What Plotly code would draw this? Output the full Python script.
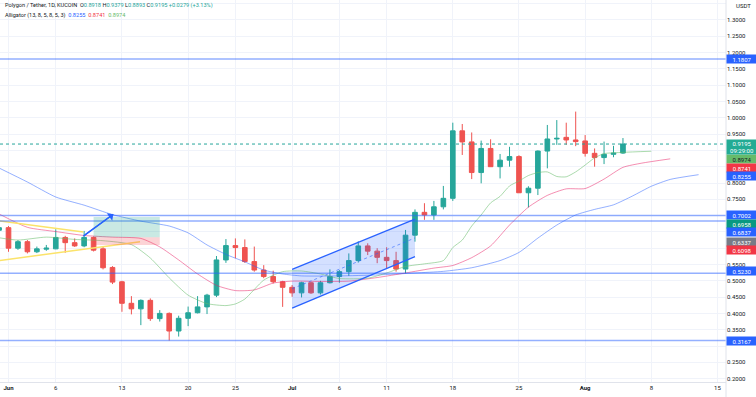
import plotly.graph_objects as go
import pandas as pd

# ---------------- data ----------------
dates = pd.date_range("2022-05-31", "2022-08-05", freq="D").strftime("%Y-%m-%d").tolist()

opens = [0.655,
         0.663, 0.600, 0.620, 0.589, 0.597, 0.598, 0.633, 0.617, 0.607, 0.633,
         0.598, 0.541, 0.497, 0.431, 0.414, 0.440, 0.384, 0.400, 0.346, 0.385,
         0.402, 0.420, 0.456, 0.564, 0.608, 0.602, 0.559, 0.533, 0.513, 0.497,
         0.480, 0.463, 0.494, 0.463, 0.494, 0.513, 0.528, 0.562, 0.607, 0.591,
         0.572, 0.562, 0.536, 0.640, 0.710, 0.702, 0.727, 0.753, 0.960, 0.926,
         0.832, 0.906, 0.850, 0.870, 0.881, 0.770, 0.784, 0.898, 0.935, 0.940,
         0.932, 0.929, 0.891, 0.878, 0.888, 0.8918]
highs = [0.680,
         0.668, 0.625, 0.625, 0.605, 0.610, 0.658, 0.638, 0.630, 0.653, 0.636,
         0.605, 0.545, 0.500, 0.453, 0.443, 0.446, 0.410, 0.403, 0.393, 0.421,
         0.453, 0.460, 0.576, 0.628, 0.630, 0.627, 0.605, 0.548, 0.531, 0.500,
         0.487, 0.497, 0.497, 0.500, 0.535, 0.533, 0.584, 0.621, 0.615, 0.600,
         0.603, 0.589, 0.656, 0.719, 0.738, 0.745, 0.791, 0.985, 0.981, 0.955,
         0.930, 0.934, 0.889, 0.911, 0.885, 0.790, 0.900, 0.978, 0.993, 0.985,
         1.019, 0.947, 0.906, 0.927, 0.914, 0.9379]
lows = [0.645,
        0.589, 0.595, 0.584, 0.585, 0.592, 0.597, 0.586, 0.604, 0.603, 0.590,
        0.535, 0.490, 0.405, 0.397, 0.364, 0.377, 0.375, 0.3167, 0.329, 0.361,
        0.400, 0.398, 0.450, 0.555, 0.569, 0.555, 0.528, 0.508, 0.492, 0.420,
        0.451, 0.449, 0.460, 0.458, 0.492, 0.494, 0.515, 0.556, 0.579, 0.554,
        0.538, 0.528, 0.523, 0.620, 0.687, 0.687, 0.719, 0.745, 0.886, 0.812,
        0.799, 0.850, 0.814, 0.850, 0.770, 0.725, 0.763, 0.845, 0.917, 0.917,
        0.913, 0.881, 0.850, 0.858, 0.879, 0.8893]
closes = [0.663,
          0.600, 0.620, 0.589, 0.598, 0.600, 0.633, 0.617, 0.607, 0.633, 0.594,
          0.540, 0.496, 0.431, 0.414, 0.440, 0.384, 0.400, 0.346, 0.385, 0.402,
          0.420, 0.456, 0.564, 0.608, 0.602, 0.559, 0.533, 0.513, 0.497, 0.480,
          0.463, 0.494, 0.463, 0.494, 0.513, 0.528, 0.562, 0.607, 0.591, 0.572,
          0.562, 0.536, 0.640, 0.710, 0.702, 0.727, 0.753, 0.960, 0.926, 0.832,
          0.906, 0.850, 0.870, 0.881, 0.770, 0.784, 0.898, 0.935, 0.937, 0.932,
          0.927, 0.891, 0.878, 0.888, 0.8916, 0.9195]

# Alligator lines
jaw_dates = ["2022-05-31", "2022-06-03", "2022-06-06", "2022-06-09", "2022-06-12", "2022-06-15",
             "2022-06-18", "2022-06-20", "2022-06-22", "2022-06-24", "2022-06-26", "2022-06-28",
             "2022-06-30", "2022-07-02", "2022-07-06", "2022-07-10", "2022-07-14", "2022-07-17",
             "2022-07-20", "2022-07-23", "2022-07-25", "2022-07-27", "2022-07-29", "2022-07-31",
             "2022-08-02", "2022-08-04", "2022-08-06", "2022-08-08", "2022-08-10", "2022-08-13"]
jaw_vals = [0.846, 0.803, 0.757, 0.732, 0.703, 0.683,
            0.668, 0.647, 0.610, 0.581, 0.558, 0.533,
            0.521, 0.515, 0.515, 0.518, 0.524, 0.529,
            0.540, 0.562, 0.587, 0.631, 0.671, 0.702,
            0.719, 0.733, 0.760, 0.790, 0.811, 0.8255]

teeth_dates = ["2022-05-31", "2022-06-03", "2022-06-06", "2022-06-09", "2022-06-12", "2022-06-15",
               "2022-06-17", "2022-06-19", "2022-06-21", "2022-06-23", "2022-06-25", "2022-06-27",
               "2022-06-29", "2022-07-01", "2022-07-04", "2022-07-07", "2022-07-10", "2022-07-13",
               "2022-07-16", "2022-07-18", "2022-07-20", "2022-07-22", "2022-07-24", "2022-07-26",
               "2022-07-28", "2022-07-30", "2022-08-01", "2022-08-03", "2022-08-05", "2022-08-07",
               "2022-08-10"]
teeth_vals = [0.705, 0.664, 0.651, 0.639, 0.634, 0.630,
              0.604, 0.564, 0.521, 0.486, 0.470, 0.472,
              0.493, 0.499, 0.498, 0.499, 0.510, 0.524,
              0.539, 0.547, 0.571, 0.607, 0.671, 0.726,
              0.762, 0.782, 0.783, 0.812, 0.848, 0.861,
              0.8741]

lips_dates = ["2022-05-31", "2022-06-02", "2022-06-05", "2022-06-08", "2022-06-11", "2022-06-14",
              "2022-06-16", "2022-06-18", "2022-06-20", "2022-06-22", "2022-06-24", "2022-06-25",
              "2022-06-26", "2022-06-28", "2022-06-30", "2022-07-02", "2022-07-04", "2022-07-06",
              "2022-07-09", "2022-07-11", "2022-07-13", "2022-07-15", "2022-07-17", "2022-07-18",
              "2022-07-19", "2022-07-20", "2022-07-21", "2022-07-22", "2022-07-23", "2022-07-24",
              "2022-07-25", "2022-07-26", "2022-07-27", "2022-07-28", "2022-07-29", "2022-07-30",
              "2022-07-31", "2022-08-01", "2022-08-02", "2022-08-03", "2022-08-05", "2022-08-08"]
lips_vals = [0.632, 0.625, 0.634, 0.627, 0.623, 0.611,
             0.570, 0.509, 0.456, 0.430, 0.424, 0.429,
             0.444, 0.502, 0.528, 0.530, 0.521, 0.507,
             0.508, 0.524, 0.544, 0.552, 0.562, 0.602,
             0.625, 0.668, 0.702, 0.739, 0.759, 0.791,
             0.806, 0.823, 0.832, 0.834, 0.820, 0.819,
             0.834, 0.855, 0.877, 0.890, 0.894, 0.8974]

# Drawings
hline_levels = [1.1807, 0.7002, 0.6837, 0.5230, 0.3167]
last_price = 0.9195
pos_dates = ["2022-06-10", "2022-06-17"]
pos_target, pos_entry, pos_stop = 0.6958, 0.6337, 0.6098
arrow_dates = ["2022-06-08 22:00", "2022-06-12 02:00"]
arrow_vals = [0.637, 0.704]
tri_upper_dates = ["2022-05-31", "2022-06-08 22:00"]
tri_upper_vals = [0.684, 0.650]
tri_lower_dates = ["2022-05-31", "2022-06-14 22:00"]
tri_lower_vals = [0.562, 0.620]
chan_dates = ["2022-07-01", "2022-07-14"]
chan_upper = [0.535, 0.689]
chan_lower = [0.416, 0.574]

xtick_vals = ["2022-06-01", "2022-06-06", "2022-06-13", "2022-06-20", "2022-06-25", "2022-07-01",
              "2022-07-06", "2022-07-11", "2022-07-18", "2022-07-25", "2022-08-01", "2022-08-08",
              "2022-08-15"]
xtick_text = ["<b>Jun</b>", "6", "13", "20", "25", "<b>Jul</b>", "6", "11", "18", "25",
              "<b>Aug</b>", "8", "15"]
# price ticks shown on the axis (others hidden behind the coloured labels in the original)
ytick_vals = [1.30, 1.25, 1.20, 1.15, 1.10, 1.05, 1.00, 0.95, 0.80, 0.75,
              0.55, 0.50, 0.45, 0.40, 0.35, 0.25, 0.20]

# ---------------- figure ----------------
GREEN = "#26a69a"
RED = "#ef5350"
BLUE = "#2962ff"
FONT = "Roboto"
TXT = "#131722"
GRID = "#f0f3fa"

fig = go.Figure()

# channel fill
fig.add_trace(go.Scatter(
    x=[chan_dates[0], chan_dates[1], chan_dates[1], chan_dates[0], chan_dates[0]],
    y=[chan_upper[0], chan_upper[1], chan_lower[1], chan_lower[0], chan_upper[0]],
    mode="lines", fill="toself", fillcolor="rgba(41,98,255,0.2)",
    line=dict(width=0), hoverinfo="skip"))

# alligator
fig.add_trace(go.Scatter(x=jaw_dates, y=jaw_vals, mode="lines",
                         line=dict(color="rgba(41,98,255,0.5)", width=1, shape="spline", smoothing=0.6),
                         hoverinfo="skip"))
fig.add_trace(go.Scatter(x=teeth_dates, y=teeth_vals, mode="lines",
                         line=dict(color="rgba(233,30,99,0.5)", width=1, shape="spline", smoothing=0.6),
                         hoverinfo="skip"))
fig.add_trace(go.Scatter(x=lips_dates, y=lips_vals, mode="lines",
                         line=dict(color="rgba(102,187,106,0.55)", width=1, shape="spline", smoothing=0.6),
                         hoverinfo="skip"))

# candles
fig.add_trace(go.Candlestick(
    x=dates, open=opens, high=highs, low=lows, close=closes,
    increasing=dict(line=dict(color=GREEN, width=1), fillcolor=GREEN),
    decreasing=dict(line=dict(color=RED, width=1), fillcolor=RED),
    whiskerwidth=0, hoverinfo="skip"))

# yellow triangle lines
fig.add_trace(go.Scatter(x=tri_upper_dates, y=tri_upper_vals, mode="lines",
                         line=dict(color="#fbe36a", width=1.5), hoverinfo="skip"))
fig.add_trace(go.Scatter(x=tri_lower_dates, y=tri_lower_vals, mode="lines",
                         line=dict(color="#fbe36a", width=1.5), hoverinfo="skip"))

# channel lines
fig.add_trace(go.Scatter(x=chan_dates, y=chan_upper, mode="lines",
                         line=dict(color=BLUE, width=1.3), hoverinfo="skip"))
fig.add_trace(go.Scatter(x=chan_dates, y=chan_lower, mode="lines",
                         line=dict(color=BLUE, width=1.3), hoverinfo="skip"))
fig.add_trace(go.Scatter(x=chan_dates, y=[(a + b) / 2 for a, b in zip(chan_upper, chan_lower)],
                         mode="lines", line=dict(color="rgba(41,98,255,0.6)", width=1, dash="dot"),
                         hoverinfo="skip"))

# arrow line
fig.add_trace(go.Scatter(x=arrow_dates, y=arrow_vals, mode="lines",
                         line=dict(color=BLUE, width=1.3), hoverinfo="skip"))

shapes = []
for lv in hline_levels:
    shapes.append(dict(type="line", xref="paper", x0=0, x1=1, yref="y", y0=lv, y1=lv,
                       line=dict(color="rgba(41,98,255,0.5)", width=1.5), layer="above"))
shapes.append(dict(type="line", xref="paper", x0=0, x1=1, yref="y", y0=last_price, y1=last_price,
                   line=dict(color=GREEN, width=1, dash="dot"), layer="above"))
shapes.append(dict(type="rect", xref="x", yref="y", x0=pos_dates[0], x1=pos_dates[1],
                   y0=pos_entry, y1=pos_target, fillcolor="rgba(8,153,129,0.22)",
                   line=dict(width=0), layer="above"))
shapes.append(dict(type="rect", xref="x", yref="y", x0=pos_dates[0], x1=pos_dates[1],
                   y0=pos_stop, y1=pos_entry, fillcolor="rgba(242,54,69,0.22)",
                   line=dict(width=0), layer="above"))
# price-scale separator
shapes.append(dict(type="line", xref="paper", yref="paper", x0=1, x1=1, y0=-0.04, y1=1,
                   line=dict(color="#e0e3eb", width=1), layer="above"))

annotations = []
# arrow head
annotations.append(dict(x=arrow_dates[1], y=arrow_vals[1], xref="x", yref="y",
                        ax=arrow_dates[0], ay=arrow_vals[0], axref="x", ayref="y",
                        showarrow=True, arrowhead=1, arrowsize=1.2, arrowwidth=1.3,
                        arrowcolor=BLUE, text=""))

# legend text
o, h, l, c = opens[-1], highs[-1], lows[-1], closes[-1]
chg = c - closes[-2]
pct = chg / closes[-2] * 100
g = "<span style='color:%s'>" % GREEN
line1 = ("Polygon / Tether, 1D, KUCOIN  O%s%.4f</span> H%s%.4f</span> L%s%.4f</span> C%s%.4f</span> "
         "%s%+.4f (%+.2f%%)</span>") % (g, o, g, h, g, l, g, c, g, chg, pct)
line2 = ("Alligator (13, 8, 5, 8, 5, 3)  <span style='color:#2962ff'>%.4f</span>  "
         "<span style='color:#f23645'>%.4f</span>  <span style='color:#66bb6a'>%.4f</span>") % (
    jaw_vals[-1], teeth_vals[-1], lips_vals[-1])
annotations.append(dict(xref="paper", yref="paper", x=0.0045, y=1 - 6 / 382, xanchor="left",
                        yanchor="middle", text=line1, showarrow=False,
                        font=dict(family=FONT, size=5.6, color=TXT)))
annotations.append(dict(xref="paper", yref="paper", x=0.0045, y=1 - 15.3 / 382, xanchor="left",
                        yanchor="middle", text=line2, showarrow=False,
                        font=dict(family=FONT, size=5.6, color=TXT)))
annotations.append(dict(xref="paper", yref="paper", x=1, y=1 - 6 / 382, xanchor="left",
                        yanchor="middle", text="USDT", showarrow=False, xshift=8,
                        font=dict(family=FONT, size=6, color=TXT)))

# price-axis labels: (value, bg colour, text colour, pixel shift)
axis_labels = [
    (1.1807, BLUE, "white", 0),
    (0.8974, "#66bb6a", TXT, -7.5),
    (0.8741, "#f23645", "white", -8.9),
    (0.8255, BLUE, "white", -1.8),
    (0.7002, BLUE, "white", 0.7),
    (0.6958, "#089981", "white", -6.9),
    (0.6837, BLUE, "white", -11.3),
    (0.6337, "#787b86", "white", -4.3),
    (0.6098, "#f23645", "white", -5.1),
    (0.5230, BLUE, "white", 2.2),
    (0.3167, BLUE, "white", 0),
]
for val, bg, fc, sh in axis_labels:
    annotations.append(dict(xref="paper", yref="y", x=1, y=val, xanchor="left", yanchor="middle",
                            text="%.4f" % val, showarrow=False, bgcolor=bg, width=29, height=7,
                            borderpad=0.5, align="center", yshift=sh,
                            font=dict(family=FONT, size=6, color=fc)))
annotations.append(dict(xref="paper", yref="y", x=1, y=last_price, xanchor="left", yanchor="middle",
                        text="%.4f<br>09:29:00" % last_price, showarrow=False, bgcolor="#22ab94",
                        width=29, height=13, borderpad=0.5, align="center", yshift=-2.5,
                        font=dict(family=FONT, size=6, color="white")))

fig.update_layout(
    width=756, height=397,
    margin=dict(l=0, r=30, t=0, b=15, autoexpand=False),
    paper_bgcolor="white", plot_bgcolor="white",
    showlegend=False,
    shapes=shapes, annotations=annotations,
    font=dict(family=FONT, size=6, color=TXT),
    xaxis=dict(type="date", range=["2022-05-31 02:24", "2022-08-15 21:36"],
               rangeslider=dict(visible=False), automargin=False,
               tickvals=xtick_vals, ticktext=xtick_text,
               tickfont=dict(family=FONT, size=6, color=TXT),
               showgrid=True, gridcolor=GRID, gridwidth=1,
               showline=True, linecolor="#e0e3eb", linewidth=1,
               zeroline=False, ticks="", fixedrange=True),
    yaxis=dict(side="right", range=[0.1896, 1.3613], automargin=False,
               tickvals=ytick_vals, tickformat=".4f",
               tickfont=dict(family=FONT, size=6, color=TXT),
               showgrid=True, gridcolor=GRID, gridwidth=1,
               minor=dict(dtick=0.05, tick0=0, showgrid=True, gridcolor=GRID, gridwidth=1),
               showline=False,
               zeroline=False, ticks="", fixedrange=True),
)

fig.write_html("out.html", config={"displayModeBar": False},
               post_script="document.body.style.margin='0px';document.body.style.overflow='hidden';")
